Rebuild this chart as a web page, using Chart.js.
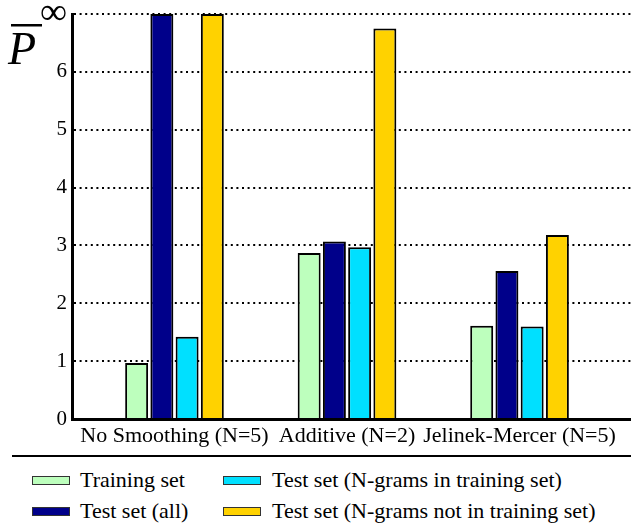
<!DOCTYPE html>
<html>
<head>
<meta charset="utf-8">
<script src="https://cdn.jsdelivr.net/npm/chart.js@4.4.1/dist/chart.umd.min.js"></script>
<style>
  body { margin: 0; background: #fff; }
  #wrap { position: relative; width: 631px; height: 525px; }
  #box { position: absolute; left: 0; top: 0; width: 631px; height: 450px; }
  #rule { position: absolute; left: 12px; top: 455px; width: 619px; height: 0; border-top: 2.5px solid #000; }
  .item { position: absolute; font-family: 'Liberation Serif', serif; font-size: 22px; color: #000; white-space: nowrap; line-height: 22px; }
  .item span.sw { position: absolute; width: 36px; height: 7px; border: 1px solid #333; }
</style>
</head>
<body>
<div id="wrap">
  <div id="box"><canvas id="grafico"></canvas></div>
  <div id="rule"></div>
  <div id="leyenda"></div>
</div>
<script>
// categorias (grupos) y series
const grupos = ['No Smoothing (N=5)', 'Additive (N=2)', 'Jelinek-Mercer (N=5)'];
const series = ['Training set', 'Test set (all)', 'Test set (N-grams in training set)', 'Test set (N-grams not in training set)'];
const colores = ['#BDFFBD', '#00008A', '#00E0FF', '#FFD200'];

// 7 = infinito (arriba del eje)
const entrenamiento = [0.97, 2.87, 1.61];
const pruebaTodo = [7, 3.07, 2.56];
const pruebaEn = [1.42, 2.97, 1.60];
const pruebaNoEn = [7, 6.75, 3.18];

const ticksY = [0, 1, 2, 3, 4, 5, 6, 7];
const etiquetasY = ['0', '1', '2', '3', '4', '5', '6', '\u221E'];

const valores = [entrenamiento, pruebaTodo, pruebaEn, pruebaNoEn];
const serif = "'Liberation Serif', serif";

const tituloP = {
    id: 'tituloP',
    afterDraw(chart) {
        const ctx = chart.ctx;
        ctx.save();
        ctx.fillStyle = '#000';
        ctx.font = 'italic 46px ' + serif;
        ctx.textBaseline = 'alphabetic';
        ctx.fillText('P', 8, 64);
        ctx.fillRect(11, 24, 31, 2.5);
        ctx.restore();
    }
};

const datasets = series.map((nombre, i) => ({
    label: nombre,
    data: valores[i].map((v, j) => ({ x: j + 1, y: v })),
    backgroundColor: colores[i],
    borderColor: '#000',
    borderWidth: 2,
    categoryPercentage: 0.585,
    barPercentage: 0.91
}));

function dibujar() {
    new Chart(document.getElementById('grafico').getContext('2d'), {
        type: 'bar',
        data: { datasets: datasets },
        options: {
            responsive: true,
            maintainAspectRatio: false,
            animation: false,
            layout: { padding: { top: 14, left: 0, right: 0, bottom: 0 } },
            plugins: {
                legend: { display: false },
                tooltip: { enabled: false }
            },
            scales: {
                x: {
                    type: 'linear',
                    offset: false,
                    bounds: 'data',
                    min: 0.406,
                    max: 3.646,
                    afterBuildTicks: (s) => { s.ticks = [1, 2, 3].map(v => ({ value: v })); },
                    afterFit: (s) => { s.height = 31; s.paddingLeft = 0; s.paddingRight = 0; },
                    grid: { display: false, drawTicks: false },
                    border: { display: true, color: '#000', width: 3 },
                    ticks: {
                        autoSkip: false,
                        maxRotation: 0,
                        padding: 4,
                        color: '#000',
                        font: { family: serif, size: 22 },
                        callback: (v) => grupos[v - 1] || ''
                    }
                },
                y: {
                    min: 0,
                    max: 7,
                    afterBuildTicks: (s) => { s.ticks = ticksY.map(v => ({ value: v })); },
                    afterFit: (s) => { s.width = 72; s.paddingTop = 0; s.paddingBottom = 0; },
                    grid: {
                        drawTicks: false,
                        lineWidth: 2,
                        color: (c) => (c.tick && c.tick.value === 0) ? 'rgba(0,0,0,0)' : '#000'
                    },
                    border: { display: true, color: '#000', width: 3, dash: [2, 3.6] },
                    ticks: {
                        padding: 5,
                        color: '#000',
                        font: (c) => (c.tick && c.tick.value === 7) ? { family: serif, size: 38 } : { family: serif, size: 21 },
                        callback: (v) => etiquetasY[ticksY.indexOf(v)]
                    }
                }
            }
        },
        plugins: [tituloP]
    });
}

// leyenda en dos columnas (orden por columnas)
const posiciones = [[32, 80, 481], [32, 80, 512], [223, 272, 481], [223, 272, 512]];
const leyenda = document.getElementById('leyenda');
series.forEach((nombre, i) => {
    const [xs, xt, yc] = posiciones[i];
    const sw = document.createElement('div');
    sw.className = 'item';
    sw.innerHTML = '<span class="sw"></span>';
    sw.style.left = xs + 'px';
    sw.style.top = (yc - 5) + 'px';
    sw.querySelector('.sw').style.background = colores[i];
    leyenda.appendChild(sw);
    const t = document.createElement('div');
    t.className = 'item';
    t.textContent = nombre;
    t.style.left = xt + 'px';
    t.style.top = (yc - 12) + 'px';
    leyenda.appendChild(t);
});

// esperar a que la fuente este lista para el canvas
if (document.fonts && document.fonts.load) {
    Promise.all([
        document.fonts.load("22px 'Liberation Serif'"),
        document.fonts.load("italic 46px 'Liberation Serif'")
    ]).then(dibujar, dibujar);
} else {
    dibujar();
}
</script>
</body>
</html>
